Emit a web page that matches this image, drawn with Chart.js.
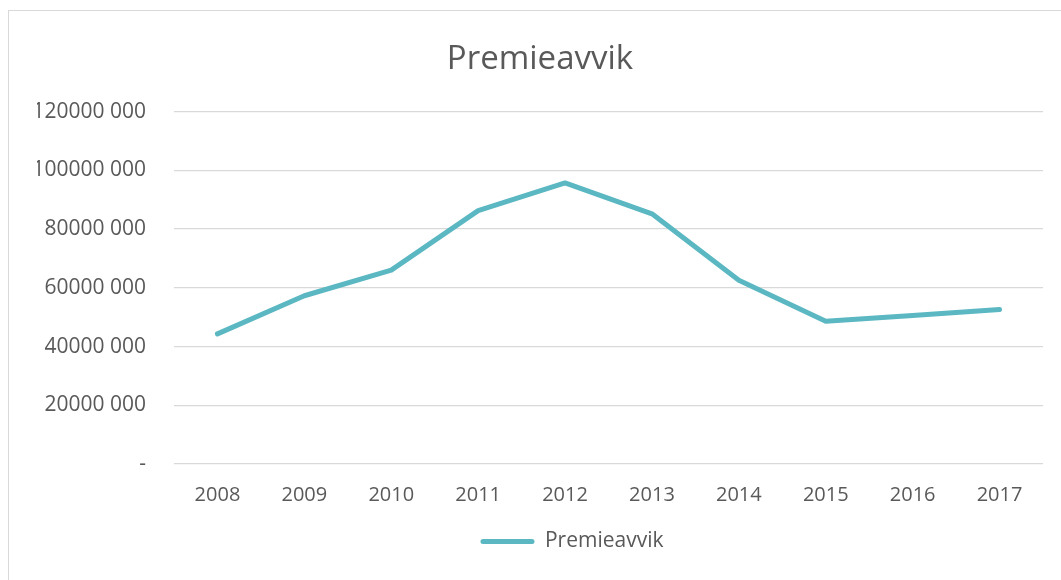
<!DOCTYPE html>
<html>
<head>
<meta charset="utf-8">
<script src="https://cdn.jsdelivr.net/npm/chart.js@4"></script>
<style>
  html, body { margin: 0; padding: 0; background: #fff; overflow: hidden; }
  #frame { position: absolute; left: 8px; top: 10px; width: 2000px; height: 2000px;
           border-left: 1.5px solid #d9d9d9; border-top: 1.5px solid #d9d9d9; }
  #wrap { position: absolute; left: 0; top: 0; width: 1061px; height: 580px; }
</style>
</head>
<body>
<div id="frame"></div>
<div id="wrap"><canvas id="chart"></canvas></div>
<script>
const years = ['2008', '2009', '2010', '2011', '2012', '2013', '2014', '2015', '2016', '2017'];
const premieavvik = [44300000, 57300000, 66000000, 86300000, 95700000, 85200000, 62600000, 48600000, 50600000, 52600000];
const yTicks = [0, 20000000, 40000000, 60000000, 80000000, 100000000, 120000000];

const teal = '#5bb8c2';
const textColor = '#595959';
const font = 'Open Sans';

function fmt(v) {
    if (v === 0) return '-';
    const rest = String(v % 1000).padStart(3, '0');
    return Math.floor(v / 1000) + ' ' + rest;
}

// legend in the original sits a bit right of centre
const legendShift = {
    id: 'legendShift',
    afterLayout(chart) {
        chart.legend.left += 32;
        chart.legend.right += 32;
    }
};

new Chart(document.getElementById('chart'), {
    type: 'line',
    data: {
        labels: years,
        datasets: [{
            label: 'Premieavvik',
            data: premieavvik,
            borderColor: teal,
            backgroundColor: teal,
            borderWidth: 5,
            borderCapStyle: 'round',
            borderJoinStyle: 'round',
            pointRadius: 0,
            tension: 0,
            fill: false
        }]
    },
    options: {
        responsive: true,
        maintainAspectRatio: false,
        animation: false,
        layout: { padding: { left: 37, right: 18, top: 0, bottom: 18 } },
        plugins: {
            title: {
                display: true,
                text: 'Premieavvik',
                color: textColor,
                font: { family: font, size: 33, weight: 'normal' },
                padding: { top: 40, bottom: 32 }
            },
            legend: {
                position: 'bottom',
                labels: {
                    color: textColor,
                    font: { family: font, size: 21 },
                    boxWidth: 54,
                    boxHeight: 5,
                    useBorderRadius: true,
                    borderRadius: 2.5,
                    padding: 10,
                    generateLabels: function (chart) {
                        const items = Chart.defaults.plugins.legend.labels.generateLabels(chart);
                        items.forEach(function (it) { it.lineWidth = 0; it.borderRadius = 2.5; });
                        return items;
                    }
                }
            },
            tooltip: { enabled: false }
        },
        scales: {
            x: {
                offset: true,
                grid: { display: false, drawTicks: false },
                border: { display: false },
                ticks: { color: textColor, font: { family: font, size: 20 }, padding: 19, maxRotation: 0 },
                afterFit: function (s) { s.height = 57; }
            },
            y: {
                min: 0,
                max: 120000000,
                afterBuildTicks: function (s) { s.ticks = yTicks.map(function (v) { return { value: v }; }); },
                grid: { color: '#d9d9d9', lineWidth: 1.3, drawTicks: false },
                border: { display: false },
                ticks: {
                    color: textColor,
                    font: { family: font, size: 21 },
                    padding: 28,
                    callback: function (v) { return fmt(v); }
                },
                afterFit: function (s) { s.width = 137; }
            }
        }
    },
    plugins: [legendShift]
});
</script>
</body>
</html>
